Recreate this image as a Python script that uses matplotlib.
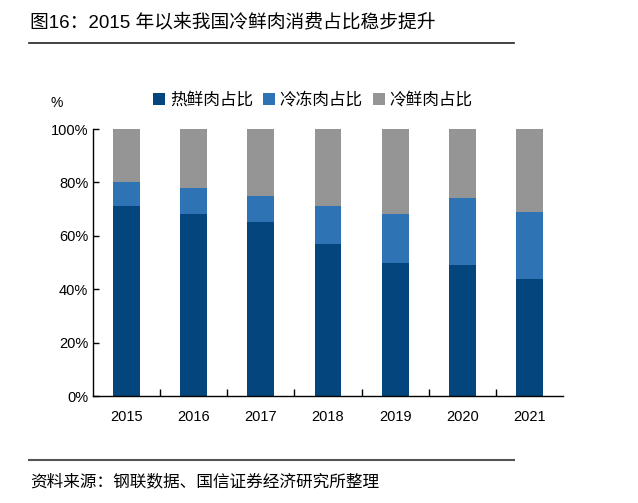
import matplotlib
matplotlib.use("Agg")
import matplotlib.pyplot as plt
import numpy as np

plt.rcParams['font.family'] = ['Liberation Sans', 'Noto Sans CJK SC', 'DejaVu Sans']

# данные
years = ['2015', '2016', '2017', '2018', '2019', '2020', '2021']
hot = [71, 68, 65, 57, 50, 49, 44]        # 热鲜肉占比
frozen = [9, 10, 10, 14, 18, 25, 25]      # 冷冻肉占比
chilled = [20, 22, 25, 29, 32, 26, 31]    # 冷鲜肉占比
series_names = ['热鲜肉占比', '冷冻肉占比', '冷鲜肉占比']
colors = ['#03457c', '#2e74b5', '#959595']

fig = plt.figure(figsize=(6.38, 5.03), dpi=100)
ax = fig.add_axes([0.1458, 0.2127, 0.7367, 0.5308])

x = np.arange(len(years))
w = 0.4
bottom = np.zeros(len(years))
for vals, name, c in zip([hot, frozen, chilled], series_names, colors):
    ax.bar(x, vals, w, bottom=bottom, color=c, label=name)
    bottom += np.array(vals)

ax.set_xlim(-0.5, len(years) - 0.5)
ax.set_ylim(0, 100)
ax.set_yticks(range(0, 101, 20))
ax.set_yticklabels([f'{v}%' for v in range(0, 101, 20)], fontsize=10.5)
ax.set_xticks(x)
ax.set_xticklabels(years, fontsize=10.5)
ax.tick_params(axis='x', length=0, pad=10)
ax.set_xticks(np.arange(0.5, len(years) - 1, 1), minor=True)
ax.tick_params(axis='x', which='minor', direction='in', length=5, width=1)
ax.tick_params(axis='y', direction='in', length=4, width=1)
for s in ['top', 'right']:
    ax.spines[s].set_visible(False)
for s in ['left', 'bottom']:
    ax.spines[s].set_linewidth(1)

fig.text(57 / 638, 1 - 103 / 503, '%', fontsize=10, ha='center', va='center')
ax.legend(loc='center', bbox_to_anchor=(313 / 638, 1 - 100 / 503), bbox_transform=fig.transFigure,
          ncol=3, frameon=False, fontsize=12, handlelength=0.7, handleheight=0.7,
          handletextpad=0.3, columnspacing=0.6)

# заголовок и источник
fig.text(30 / 638, 1 - 22 / 503, '图16：2015 年以来我国冷鲜肉消费占比稳步提升', fontsize=13.5,
         ha='left', va='center')
fig.add_artist(plt.Line2D([29 / 638, 514 / 638], [1 - 43 / 503] * 2, color='#222222', lw=1.2))
fig.add_artist(plt.Line2D([29 / 638, 514 / 638], [1 - 460 / 503] * 2, color='#555555', lw=1.5))
fig.text(30 / 638, 1 - 481 / 503, '资料来源：钢联数据、国信证券经济研究所整理', fontsize=12,
         ha='left', va='center')

fig.savefig('out.png', dpi=100)
